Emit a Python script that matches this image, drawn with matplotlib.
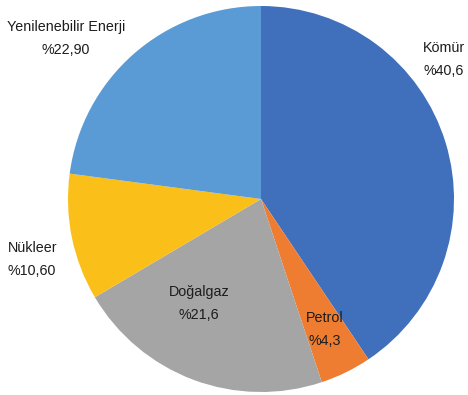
import matplotlib
matplotlib.use("Agg")
import matplotlib.pyplot as plt

# Energy mix shares (%)
sources = ["Kömür", "Petrol", "Doğalgaz", "Nükleer", "Yenilenebilir Enerji"]
shares = [40.6, 4.3, 21.6, 10.6, 22.9]
share_labels = ["%40,6", "%4,3", "%21,6", "%10,60", "%22,90"]
colors = ["#4070BB", "#EE7D31", "#A5A5A5", "#FBBF1A", "#5B9BD5"]

W, H = 468, 395
fig = plt.figure(figsize=(W / 100, H / 100), dpi=100)
ax = fig.add_axes([0, 0, 1, 1])

cx, cy, r = 261, H - 199, 193
ax.pie(shares, colors=colors, startangle=90, counterclock=False,
       center=(cx, cy), radius=r, frame=True,
       wedgeprops=dict(linewidth=0))
ax.set_xlim(0, W)
ax.set_ylim(0, H)
ax.set_aspect("equal")
ax.axis("off")

plt.rcParams["font.family"] = ["Liberation Sans", "DejaVu Sans"]
txt = dict(fontsize=10.3, color="#1c1c1c", va="center")

# label anchor points (x, y from top) and alignment
label_pos = {
    "Kömür": (423, 48, "left"),
    "Petrol": (325, 318, "center"),
    "Doğalgaz": (199, 292, "center"),
    "Nükleer": (8, 248, "left"),
    "Yenilenebilir Enerji": (66, 27, "center"),
}
for name, lab in zip(sources, share_labels):
    x, y, ha = label_pos[name]
    ax.text(x, H - y, name, ha=ha, **txt)
    ax.text(x, H - y - 23, lab, ha=ha, **txt)

fig.savefig("out.png", dpi=100, facecolor="white")
